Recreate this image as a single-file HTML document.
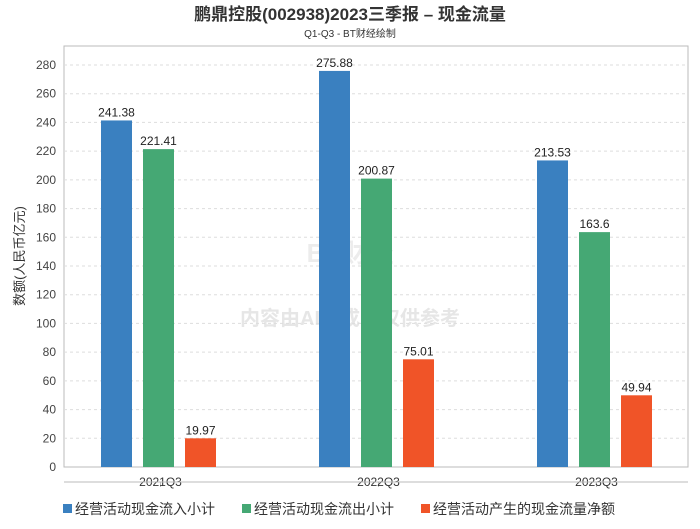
<!DOCTYPE html>
<html><head><meta charset="utf-8"><style>
body{margin:0;background:#fff;font-family:"Liberation Sans","Noto Sans CJK SC",sans-serif}
svg text{font-family:"Liberation Sans","Noto Sans CJK SC",sans-serif}
</style></head><body>
<svg width="700" height="524" id="c">
<rect x="0" y="0" width="700" height="524" fill="#fff"/>
<text x="350" y="20" text-anchor="middle" font-size="17" font-weight="bold" fill="#333">鹏鼎控股(002938)2023三季报 – 现金流量</text>
<text x="350" y="37" text-anchor="middle" font-size="10" fill="#333">Q1-Q3 - BT财经绘制</text>
<rect x="64" y="46" width="624" height="421" fill="#fff" stroke="#bbb"/>
<text x="24" y="256" transform="rotate(-90 24 256)" text-anchor="middle" font-size="13" fill="#333">数额(人民币亿元)</text>
<text x="350" y="262" text-anchor="middle" font-size="26" font-weight="bold" fill="#ececec">BT财经</text>
<text x="350" y="325" text-anchor="middle" font-size="20" font-weight="bold" fill="#e6e6e6">内容由AI生成，仅供参考</text>
<g id="grid"></g><g id="bars"></g><g id="xl"></g>
<line x1="64" y1="482" x2="688" y2="482" stroke="#bbb"/>
<g font-size="14" fill="#333">
<rect x="63" y="504" width="9" height="9" fill="#3a80c0"/>
<text x="75" y="514">经营活动现金流入小计</text>
<rect x="242" y="504" width="9" height="9" fill="#45a874"/>
<text x="254" y="514">经营活动现金流出小计</text>
<rect x="421" y="504" width="9" height="9" fill="#f05428"/>
<text x="433" y="514">经营活动产生的现金流量净额</text>
</g>
</svg>
<script>
const categories=["2021Q3","2022Q3","2023Q3"];
const inflow=[241.38,275.88,213.53];
const outflow=[221.41,200.87,163.6];
const net=[19.97,75.01,49.94];
const yTicks=[0,20,40,60,80,100,120,140,160,180,200,220,240,260,280];
const NS="http://www.w3.org/2000/svg";
const y0=467,pxPer=(467-65)/280;
const y=v=>y0-v*pxPer;
const x=i=>158.5+218*i;
function mk(t,a,p,txt){const e=document.createElementNS(NS,t);for(const k in a)e.setAttribute(k,a[k]);if(txt!==undefined)e.textContent=txt;p.appendChild(e);return e;}
const g=document.getElementById('grid');
yTicks.forEach(v=>{
 if(v>0){const l=mk('line',{x1:64,x2:688,y1:y(v),y2:y(v),stroke:'#ddd','stroke-dasharray':'3,3'},g);
 
 }
 const t=mk('text',{x:56,y:y(v)+4,'text-anchor':'end','font-size':12,fill:'#444'},g,v);
 
 
});
const b=document.getElementById('bars');
const series=[[inflow,'#3a80c0',-42,'inflow'],[outflow,'#45a874',0,'outflow'],[net,'#f05428',42,'net']];
categories.forEach((c,i)=>{
 series.forEach(([arr,col,off,nm])=>{
  const cx=x(i)+off;
  const r=mk('rect',{x:cx-15.5,y:y(arr[i]),width:31,height:y0-y(arr[i]),fill:col},b);
  
  
  const t=mk('text',{x:cx,y:y(arr[i])-4,'text-anchor':'middle','font-size':12,fill:'#222'},b,arr[i]);
  
  
 });
 const tk=mk('line',{x1:x(i)+2,x2:x(i)+2,y1:482,y2:487,stroke:'#bbb'},document.getElementById('xl'));
 
 
 const t=mk('text',{x:x(i)+2,y:486,'text-anchor':'middle','font-size':12,fill:'#333'},document.getElementById('xl'),c);
 
 
});
</script>
</body></html>
